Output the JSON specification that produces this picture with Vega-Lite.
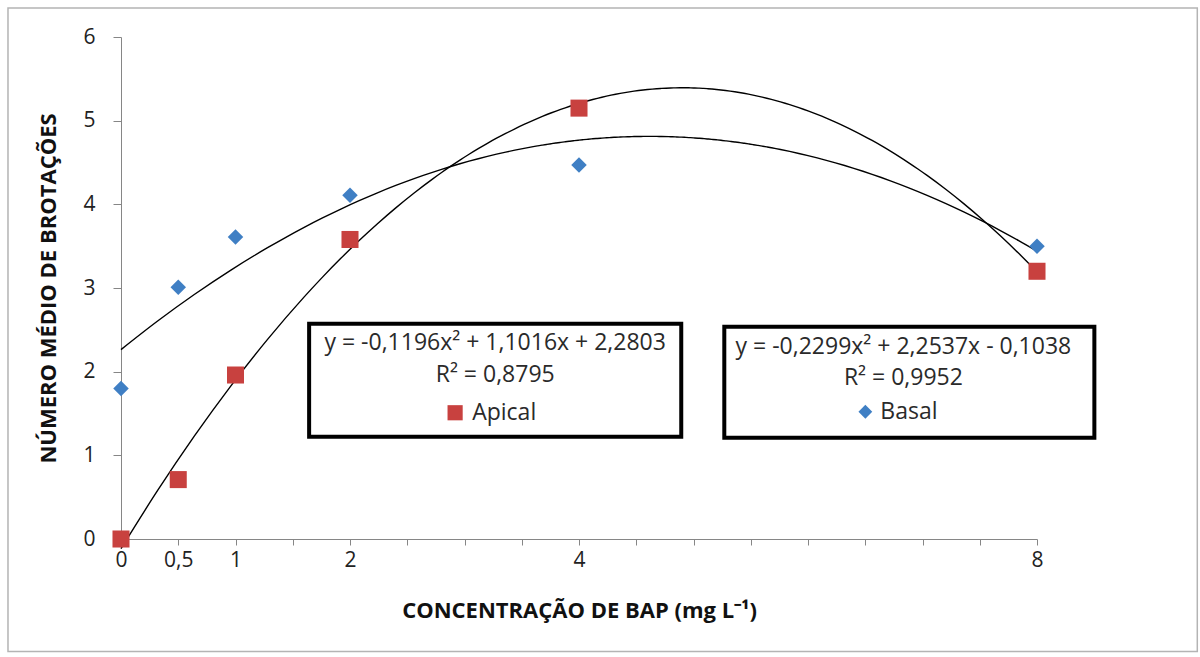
{
  "$schema": "https://vega.github.io/schema/vega-lite/v6.json",
  "width": 916,
  "height": 502,
  "autosize": {"type": "none"},
  "padding": {"left": 121, "top": 37, "right": 163, "bottom": 118},
  "background": "white",
  "config": {
    "view": {"stroke": null},
    "font": "Open Sans",
    "axis": {
      "grid": false,
      "domainColor": "#868686",
      "tickColor": "#868686",
      "labelFont": "Open Sans",
      "labelFontSize": 21,
      "labelColor": "#222222",
      "titleFont": "Open Sans",
      "titleFontSize": 22,
      "titleFontWeight": "bold",
      "titleColor": "#111111"
    }
  },
  "datasets": {
    "obs": [
      {"series": "Apical", "bap": 0, "brotacoes": 0.0},
      {"series": "Apical", "bap": 0.5, "brotacoes": 0.71},
      {"series": "Apical", "bap": 1, "brotacoes": 1.96},
      {"series": "Apical", "bap": 2, "brotacoes": 3.58},
      {"series": "Apical", "bap": 4, "brotacoes": 5.15},
      {"series": "Apical", "bap": 8, "brotacoes": 3.2},
      {"series": "Basal", "bap": 0, "brotacoes": 1.8},
      {"series": "Basal", "bap": 0.5, "brotacoes": 3.01},
      {"series": "Basal", "bap": 1, "brotacoes": 3.61},
      {"series": "Basal", "bap": 2, "brotacoes": 4.11},
      {"series": "Basal", "bap": 4, "brotacoes": 4.47},
      {"series": "Basal", "bap": 8, "brotacoes": 3.5}
    ]
  },
  "data": {"name": "obs"},
  "layer": [
    {
      "data": {"values": [{}]},
      "mark": {"type": "rect", "fill": null, "stroke": "#B4B4B4", "strokeWidth": 1.5},
      "encoding": {
        "x": {"datum": -0.987, "type": "quantitative", "scale": {"domain": [0, 8], "nice": false}},
        "x2": {"datum": 9.40},
        "y": {"datum": 6.348, "type": "quantitative", "scale": {"domain": [0, 6], "nice": false}},
        "y2": {"datum": -1.346}
      }
    },
    {
      "mark": {"type": "line", "color": "#000000", "strokeWidth": 1.4, "interpolate": "monotone"},
      "transform": [
        {"regression": "brotacoes", "on": "bap", "groupby": ["series"], "method": "poly", "order": 2, "extent": [0, 8]}
      ],
      "encoding": {
        "x": {"field": "bap", "type": "quantitative"},
        "y": {"field": "brotacoes", "type": "quantitative"},
        "detail": {"field": "series"}
      }
    },
    {
      "mark": {"type": "point", "filled": true, "opacity": 1},
      "encoding": {
        "x": {
          "field": "bap", "type": "quantitative",
          "scale": {"domain": [0, 8], "nice": false, "zero": true},
          "axis": {
            "title": "CONCENTRAÇÃO DE BAP (mg L⁻¹)",
            "values": [0, 0.5, 1, 1.5, 2, 2.5, 3, 3.5, 4, 4.5, 5, 5.5, 6, 6.5, 7, 7.5, 8],
            "labelExpr": "indexof([0, 0.5, 1, 2, 4, 8], datum.value) >= 0 ? replace(format(datum.value, '~g'), '.', ',') : ''",
            "tickSize": 6,
            "labelPadding": 4,
            "titlePadding": 30,
            "labelFlush": false,
            "labelOverlap": false
          }
        },
        "y": {
          "field": "brotacoes", "type": "quantitative",
          "scale": {"domain": [0, 6], "nice": false},
          "axis": {
            "title": "NÚMERO MÉDIO DE BROTAÇÕES",
            "values": [0, 1, 2, 3, 4, 5, 6],
            "format": "d",
            "tickSize": 8,
            "labelPadding": 18,
            "titlePadding": 22,
            "labelFlush": false
          }
        },
        "shape": {"field": "series", "type": "nominal", "scale": {"domain": ["Apical", "Basal"], "range": ["square", "diamond"]}, "legend": null},
        "color": {"field": "series", "type": "nominal", "scale": {"domain": ["Apical", "Basal"], "range": ["#C8413F", "#3F7FC4"]}, "legend": null},
        "size": {"field": "series", "type": "nominal", "scale": {"domain": ["Apical", "Basal"], "range": [290, 240]}, "legend": null}
      }
    },
    {
      "data": {"values": [{}]},
      "mark": {"type": "rect", "fill": "white", "stroke": "#000000", "strokeWidth": 4},
      "encoding": {
        "x": {"datum": 1.643, "type": "quantitative"},
        "x2": {"datum": 4.893},
        "y": {"datum": 2.572, "type": "quantitative"},
        "y2": {"datum": 1.222}
      }
    },
    {
      "data": {"values": [{}]},
      "mark": {"type": "rect", "fill": "white", "stroke": "#000000", "strokeWidth": 4},
      "encoding": {
        "x": {"datum": 5.269, "type": "quantitative"},
        "x2": {"datum": 8.501},
        "y": {"datum": 2.536, "type": "quantitative"},
        "y2": {"datum": 1.21}
      }
    },
    {
      "data": {"values": [{"t": "y = -0,1196x² + 1,1016x + 2,2803"}]},
      "mark": {"type": "text", "fontSize": 23, "color": "#2a2a2a", "align": "center", "baseline": "middle"},
      "encoding": {
        "x": {"datum": 3.268, "type": "quantitative"},
        "y": {"datum": 2.345, "type": "quantitative"},
        "text": {"field": "t"}
      }
    },
    {
      "data": {"values": [{"t": "R² = 0,8795"}]},
      "mark": {"type": "text", "fontSize": 23, "color": "#2a2a2a", "align": "center", "baseline": "middle"},
      "encoding": {
        "x": {"datum": 3.268, "type": "quantitative"},
        "y": {"datum": 1.964, "type": "quantitative"},
        "text": {"field": "t"}
      }
    },
    {
      "data": {"values": [{"t": "y = -0,2299x² + 2,2537x - 0,1038"}]},
      "mark": {"type": "text", "fontSize": 23, "color": "#2a2a2a", "align": "center", "baseline": "middle"},
      "encoding": {
        "x": {"datum": 6.833, "type": "quantitative"},
        "y": {"datum": 2.3, "type": "quantitative"},
        "text": {"field": "t"}
      }
    },
    {
      "data": {"values": [{"t": "R² = 0,9952"}]},
      "mark": {"type": "text", "fontSize": 23, "color": "#2a2a2a", "align": "center", "baseline": "middle"},
      "encoding": {
        "x": {"datum": 6.833, "type": "quantitative"},
        "y": {"datum": 1.927, "type": "quantitative"},
        "text": {"field": "t"}
      }
    },
    {
      "data": {"values": [{}]},
      "mark": {"type": "point", "shape": "square", "filled": true, "opacity": 1, "color": "#C8413F", "size": 230},
      "encoding": {
        "x": {"datum": 2.918, "type": "quantitative"},
        "y": {"datum": 1.509, "type": "quantitative"}
      }
    },
    {
      "data": {"values": [{"t": "Apical"}]},
      "mark": {"type": "text", "fontSize": 23, "color": "#2a2a2a", "align": "left", "baseline": "middle"},
      "encoding": {
        "x": {"datum": 3.067, "type": "quantitative"},
        "y": {"datum": 1.509, "type": "quantitative"},
        "text": {"field": "t"}
      }
    },
    {
      "data": {"values": [{}]},
      "mark": {"type": "point", "shape": "diamond", "filled": true, "opacity": 1, "color": "#3F7FC4", "size": 190},
      "encoding": {
        "x": {"datum": 6.501, "type": "quantitative"},
        "y": {"datum": 1.521, "type": "quantitative"}
      }
    },
    {
      "data": {"values": [{"t": "Basal"}]},
      "mark": {"type": "text", "fontSize": 23, "color": "#2a2a2a", "align": "left", "baseline": "middle"},
      "encoding": {
        "x": {"datum": 6.632, "type": "quantitative"},
        "y": {"datum": 1.521, "type": "quantitative"},
        "text": {"field": "t"}
      }
    }
  ]
}
